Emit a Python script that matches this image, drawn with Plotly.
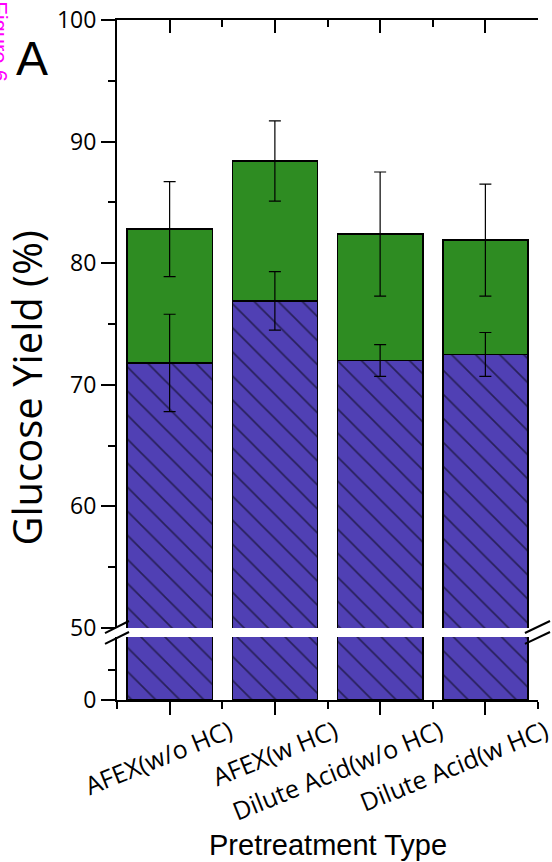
import plotly.graph_objects as go

# ---------------- data ----------------
categories = ["AFEX(w/o HC)", "AFEX(w HC)", "Dilute Acid(w/o HC)", "Dilute Acid(w HC)"]
base_yield = [71.8, 76.9, 72.0, 72.5]          # hatched purple segment
base_err = [4.0, 2.4, 1.3, 1.8]
total_yield = [82.8, 88.4, 82.4, 81.9]         # top of green segment
total_err = [3.9, 3.3, 5.1, 4.6]

upper_ticks = [50, 60, 70, 80, 90, 100]
upper_minor = [55, 65, 75, 85, 95]
lower_ticks = [0]
lower_minor = [25]

increment = [t - b for t, b in zip(total_yield, base_yield)]
xpos = list(range(len(categories)))
bounds = [i - 0.5 for i in range(len(categories) + 1)]

BLUE = "#5040B4"
GREEN = "#2E8C22"
AX = dict(showline=True, linewidth=2, linecolor="black", showgrid=False,
          zeroline=False, tickcolor="black", tickwidth=2, automargin=False)

hatch = dict(shape="\\", fgcolor="black", size=17, solidity=0.1)
ERR = dict(type="data", color="black", thickness=1.2, width=6)

fig = go.Figure()
# upper panel (50-100)
fig.add_trace(go.Bar(x=xpos, y=base_yield, xaxis="x2", yaxis="y", width=0.81,
                     name="Base", showlegend=False,
                     marker=dict(color=BLUE, line=dict(color="black", width=1.5), pattern=hatch)))
fig.add_trace(go.Bar(x=xpos, y=increment, xaxis="x2", yaxis="y", width=0.81,
                     name="Increase", showlegend=False,
                     marker=dict(color=GREEN, line=dict(color="black", width=1.5))))
# error bars drawn on top of both bar segments
fig.add_trace(go.Scatter(x=xpos, y=base_yield, xaxis="x2", yaxis="y", mode="markers",
                         marker=dict(opacity=0, size=1), showlegend=False, hoverinfo="skip",
                         error_y=dict(array=base_err, **ERR)))
fig.add_trace(go.Scatter(x=xpos, y=total_yield, xaxis="x2", yaxis="y", mode="markers",
                         marker=dict(opacity=0, size=1), showlegend=False, hoverinfo="skip",
                         error_y=dict(array=total_err, **ERR)))
# lower panel (0-50)
fig.add_trace(go.Bar(x=xpos, y=base_yield, xaxis="x", yaxis="y2", width=0.81,
                     name="Base", showlegend=False,
                     marker=dict(color=BLUE, line=dict(color="black", width=1.5), pattern=hatch)))

TOP_DOM = [0.1059, 1.0]
LOW_DOM = [0.0, 0.0926]
LOW_RANGE = [0, 52.5]

fig.update_layout(
    width=552, height=862,
    margin=dict(l=117, r=14, t=20, b=162),
    paper_bgcolor="white", plot_bgcolor="white",
    barmode="stack",
    font=dict(family="Open Sans", color="black"),
    xaxis=dict(domain=[0, 1], anchor="y2", range=[-0.5, 3.5],
               tickmode="array", tickvals=xpos, ticktext=categories,
               ticks="outside", ticklen=13, tickangle=-22,
               tickfont=dict(family="Open Sans", size=25),
               ticklabelshift=60, ticklabelstandoff=-7, ticklabeloverflow="allow",
               minor=dict(tickmode="array", tickvals=bounds, ticks="outside",
                          ticklen=7, tickwidth=2, tickcolor="black"),
               **AX),
    xaxis2=dict(domain=[0, 1], anchor="y", side="top", range=[-0.5, 3.5], matches="x",
                tickmode="array", tickvals=xpos, ticks="inside", ticklen=13,
                showticklabels=False,
                minor=dict(tickmode="array", tickvals=bounds, ticks="inside",
                           ticklen=7, tickwidth=2, tickcolor="black"),
                **AX),
    yaxis=dict(domain=TOP_DOM, anchor="x2", range=[50, 100],
               tickmode="array", tickvals=upper_ticks, ticks="outside", ticklen=14,
               tickfont=dict(family="Open Sans", size=23),
               minor=dict(tickmode="array", tickvals=upper_minor, ticks="outside",
                          ticklen=7, tickwidth=2, tickcolor="black"),
               **AX),
    yaxis3=dict(overlaying="y", side="right", anchor="x2", range=[50, 100],
                tickmode="array", tickvals=upper_ticks, ticks="inside", ticklen=13,
                showticklabels=False,
                minor=dict(tickmode="array", tickvals=upper_minor, ticks="inside",
                           ticklen=7, tickwidth=2, tickcolor="black"),
                **AX),
    yaxis2=dict(domain=LOW_DOM, anchor="x", range=LOW_RANGE,
                tickmode="array", tickvals=lower_ticks, ticks="outside", ticklen=14,
                tickfont=dict(family="Open Sans", size=23),
                minor=dict(tickmode="array", tickvals=lower_minor, ticks="outside",
                           ticklen=7, tickwidth=2, tickcolor="black"),
                **AX),
    yaxis4=dict(overlaying="y2", side="right", anchor="x", range=LOW_RANGE,
                tickmode="array", tickvals=lower_minor, ticks="inside", ticklen=7,
                showticklabels=False, **AX),
)

# axis-break marks
for x0, x1 in [(-0.0285, 0.0285), (0.969, 1.0285)]:
    for y0, y1 in [(0.0985, 0.1162), (0.0824, 0.1)]:
        fig.add_shape(type="line", xref="paper", yref="paper", x0=x0, x1=x1, y0=y0, y1=y1,
                      line=dict(color="black", width=2))

fig.add_annotation(text="Glucose Yield (%)", xref="paper", yref="paper", x=-0.216, y=0.458,
                   textangle=-90, showarrow=False, xanchor="center", yanchor="middle",
                   font=dict(family="Open Sans", size=40, color="black"))
fig.add_annotation(text="Pretreatment Type", xref="paper", yref="paper", x=0.5, y=-0.2132,
                   showarrow=False, xanchor="center", yanchor="middle",
                   font=dict(family="Liberation Sans", size=29, color="black"))
fig.add_annotation(text="A", xref="paper", yref="paper", x=-0.2019, y=0.944,
                   showarrow=False, xanchor="center", yanchor="middle",
                   font=dict(family="Liberation Sans", size=48, color="black"))
fig.add_annotation(text="Figure 6", xref="paper", yref="paper", x=-0.279, y=0.968,
                   textangle=90, showarrow=False, xanchor="center", yanchor="middle",
                   font=dict(family="Liberation Sans", size=22, color="#FF00FF"))

fig.write_html("out.html")
